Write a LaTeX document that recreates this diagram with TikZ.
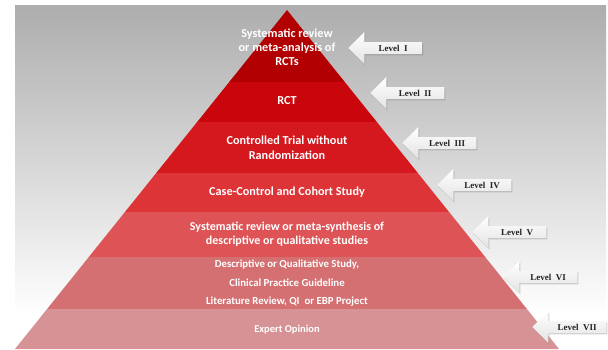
\documentclass[tikz,border=0pt]{standalone}
\usepackage{fontspec}
\usepackage{tikz}
\usetikzlibrary{shapes.arrows,shadows}
\newfontfamily\bandfont{Carlito}
\newfontfamily\lvlfont{Liberation Serif}

\definecolor{lvlA}{RGB}{178,0,2}
\definecolor{lvlB}{RGB}{200,6,12}
\definecolor{lvlC}{RGB}{213,24,30}
\definecolor{lvlD}{RGB}{221,52,56}
\definecolor{lvlE}{RGB}{222,84,86}
\definecolor{lvlF}{RGB}{213,112,114}
\definecolor{lvlG}{RGB}{215,146,149}
\definecolor{lvltext}{RGB}{34,34,34}

\pgfdeclareverticalshading{bgshade}{100bp}{color(0bp)=(white); color(30bp)=(white); color(100bp)=(black!50)}

\begin{document}
\begin{tikzpicture}[x=1pt,y=-1pt]
	\tikzstyle{band}=[text=white,align=center,inner sep=0pt,font=\bandfont\bfseries\fontsize{12.2}{14}\selectfont]
	\tikzstyle{lvl}=[single arrow,shape border rotate=180,anchor=tip,
		minimum height=74pt,minimum width=32pt,single arrow head extend=7.5pt,
		inner sep=1pt,top color=white,bottom color=gray!22,draw=none,
		drop shadow={shadow xshift=1pt,shadow yshift=-1.5pt,opacity=.35},
		text=lvltext,font=\lvlfont\bfseries\fontsize{9}{10}\selectfont]
	
	\useasboundingbox (0,0) rectangle (608,349);
	\shade[shading=bgshade] (15,5) rectangle (606,349);
	
	\coordinate (apex) at (287,10);
	\coordinate (bl) at (15,349);
	\coordinate (br) at (559,349);
	
	\begin{scope}
		\clip (apex) -- (bl) -- (br) -- cycle;
		\fill[lvlA] (0,0) rectangle (608,82);
		\fill[lvlB] (0,82) rectangle (608,122);
		\fill[lvlC] (0,122) rectangle (608,173);
		\fill[lvlD] (0,173) rectangle (608,212);
		\fill[lvlE] (0,212) rectangle (608,257);
		\fill[lvlF] (0,257) rectangle (608,309);
		\fill[lvlG] (0,309) rectangle (608,350);
	\end{scope}
	
	\node[band] (t1) at (287,47) {Systematic review\\or meta-analysis of\\RCTs};
	\node[band] (t2) at (287,101) {RCT};
	\node[band,font=\bandfont\bfseries\fontsize{12.2}{15}\selectfont] (t3) at (287,148) {Controlled Trial without\\Randomization};
	\node[band] (t4) at (287,192) {Case-Control and Cohort Study};
	\node[band,font=\bandfont\bfseries\fontsize{12}{14}\selectfont] (t5) at (287,234) {Systematic review or meta-synthesis of\\descriptive or qualitative studies};
	\node[band,font=\bandfont\bfseries\fontsize{10.8}{18.5}\selectfont] (t6) at (287,283.5) {Descriptive or Qualitative Study,\\Clinical Practice Guideline\\Literature Review, QI\ \ or EBP Project};
	\node[band,font=\bandfont\bfseries\fontsize{10.5}{12}\selectfont] (t7) at (287,330) {Expert Opinion};
	
	\node[lvl] (l1) at (348,48) {\hspace{10pt}Level\ \ I};
	\node[lvl] (l2) at (370,93) {\hspace{10pt}Level\ \ II};
	\node[lvl] (l3) at (402,143) {\hspace{10pt}Level\ \ III};
	\node[lvl] (l4) at (437,185) {\hspace{10pt}Level\ \ IV};
	\node[lvl] (l5) at (472,232) {\hspace{10pt}Level\ \ V};
	\node[lvl] (l6) at (503,277) {\hspace{10pt}Level\ \ VI};
	\node[lvl] (l7) at (532,327) {\hspace{10pt}Level\ \ VII};
\end{tikzpicture}
\end{document}
